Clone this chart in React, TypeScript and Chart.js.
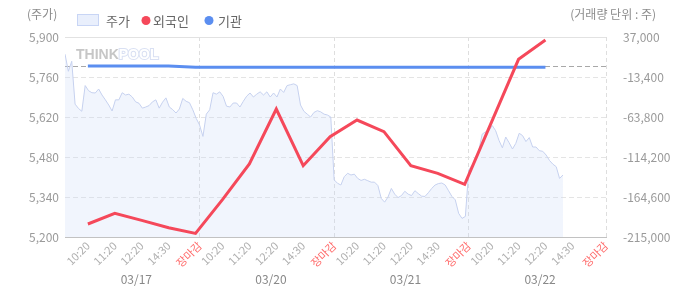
import React, { useEffect, useRef } from 'react';
import { Chart, registerables } from 'chart.js';

Chart.register(...registerables);

const FONT = "'Noto Sans CJK KR', 'Noto Sans', sans-serif";

// ---- data ----
const dates = ['03/17', '03/20', '03/21', '03/22'];
const slotLabels = ['10:20', '11:20', '12:20', '14:30', '장마감'];
const CLOSE = '장마감';
const dayLength = 5;
const xMax = 20.1;
const slotTimes = [0.85, 1.85, 2.85, 3.85, 5];
const flowTimes = [0.85, 1.85, 2.85, 3.85, 4.85];
const priceStep = 0.125;

const priceDay1 = [5840, 5780, 5815, 5665, 5650, 5640, 5730, 5712, 5705, 5704, 5718, 5697, 5680, 5662, 5641, 5680, 5680, 5705, 5697, 5700, 5690, 5673, 5668, 5651, 5655, 5660, 5673, 5680, 5651, 5672, 5687, 5655, 5646, 5634, 5648, 5685, 5675, 5670, 5645, 5615];
const priceDay2 = [5592, 5552, 5630, 5645, 5705, 5700, 5708, 5692, 5658, 5655, 5669, 5669, 5655, 5675, 5693, 5704, 5690, 5700, 5708, 5697, 5708, 5690, 5704, 5690, 5718, 5706, 5730, 5733, 5736, 5730, 5662, 5640, 5630, 5620, 5636, 5642, 5638, 5630, 5627, 5620];
const priceDay3 = [5400, 5388, 5382, 5411, 5423, 5417, 5420, 5405, 5398, 5402, 5397, 5392, 5392, 5380, 5335, 5322, 5340, 5370, 5350, 5338, 5345, 5360, 5350, 5345, 5362, 5352, 5343, 5342, 5355, 5370, 5382, 5387, 5389, 5382, 5362, 5342, 5330, 5283, 5265, 5272];
const priceDay4 = [5434, 5452, 5468, 5504, 5560, 5568, 5572, 5590, 5572, 5538, 5512, 5550, 5530, 5508, 5528, 5563, 5555, 5534, 5548, 5515, 5515, 5502, 5500, 5487, 5468, 5455, 5446, 5405, 5417];
const priceDays = [priceDay1, priceDay2, priceDay3, priceDay4];

const foreignNet = [-198600, -185200, -194000, -203300, -210400, -168000, -123000, -53700, -125100, -88600, -67600, -82300, -125100, -134800, -148600, -70000, 8900, 33200];
const institutionNet = [500, 500, 500, 500, -1100, -1100, -1100, -1100, -1100, -1100, -1100, -1100, -1100, -1100, -1100, -1100, -1100, -1100];

const priceTicks = [5200, 5340, 5480, 5620, 5760, 5900];
const volumeTicks = [-215000, -164600, -114200, -63800, -13400, 37000];

const RED = '#f5485a';
const BLUE = '#5b8ef0';

export default function App() {
  const ref = useRef<HTMLCanvasElement>(null);

  useEffect(() => {
    const canvas = ref.current;
    if (!canvas) return;

    const tickValues: number[] = [];
    const tickLabels: string[] = [];
    dates.forEach((_, d) => {
      slotTimes.forEach((t, k) => {
        const last = d === dates.length - 1 && k === slotTimes.length - 1;
        tickValues.push(last ? xMax : d * dayLength + t);
        tickLabels.push(slotLabels[k]);
      });
    });

    const priceData = priceDays.flatMap((arr, d) =>
      arr.map((v, j) => ({ x: d * dayLength + j * priceStep, y: v }))
    );
    const flowX = (i: number) => Math.floor(i / flowTimes.length) * dayLength + flowTimes[i % flowTimes.length];
    const foreignData = foreignNet.map((v, i) => ({ x: flowX(i), y: v }));
    const instData = institutionNet.map((v, i) => ({ x: flowX(i), y: v }));

    const decor = {
      id: 'decor',
      beforeDatasetsDraw(chart: any) {
        const { ctx, chartArea } = chart;
        const { left, right, top } = chartArea;
        ctx.save();
        ctx.strokeStyle = '#e2e2e2';
        ctx.lineWidth = 1;
        ctx.beginPath();
        ctx.moveTo(left, top + 0.5);
        ctx.lineTo(right, top + 0.5);
        ctx.stroke();
        // zero line of volume axis
        const y0 = Math.round(chart.scales.yVol.getPixelForValue(0)) + 0.5;
        ctx.setLineDash([5, 3]);
        ctx.strokeStyle = '#a8a8a8';
        ctx.beginPath();
        ctx.moveTo(left, y0);
        ctx.lineTo(right, y0);
        ctx.stroke();
        ctx.setLineDash([]);
        // watermark
        ctx.font = "bold 14px 'Liberation Sans', sans-serif";
        ctx.textBaseline = 'alphabetic';
        ctx.textAlign = 'left';
        ctx.fillStyle = '#c6c6c6';
        ctx.fillText('THINK', left + 11, top + 22);
        const w = ctx.measureText('THINK').width;
        ctx.lineWidth = 2;
        ctx.strokeStyle = '#d9e0f3';
        ctx.strokeText('POOL', left + 11 + w, top + 22);
        ctx.fillStyle = '#ffffff';
        ctx.fillText('POOL', left + 11 + w, top + 22);
        ctx.restore();
      },
      afterDraw(chart: any) {
        const { ctx } = chart;
        ctx.save();
        ctx.textBaseline = 'middle';
        ctx.font = `12px ${FONT}`;
        ctx.fillStyle = '#8c8c8c';
        ctx.textAlign = 'left';
        ctx.fillText('(주가)', 27, 14);
        ctx.textAlign = 'right';
        ctx.fillText('(거래량 단위 : 주)', 656, 14);

        // legend
        ctx.textAlign = 'left';
        ctx.font = `13px ${FONT}`;
        ctx.fillStyle = '#e9effc';
        ctx.fillRect(77.5, 14.5, 21, 11);
        ctx.strokeStyle = '#c8d5f5';
        ctx.lineWidth = 1;
        ctx.strokeRect(77.5, 14.5, 21, 11);
        ctx.fillStyle = '#666666';
        ctx.fillText('주가', 106, 21);
        ctx.fillStyle = RED;
        ctx.beginPath();
        ctx.arc(146, 20.5, 4.5, 0, Math.PI * 2);
        ctx.fill();
        ctx.fillStyle = '#666666';
        ctx.fillText('외국인', 153, 21);
        ctx.fillStyle = BLUE;
        ctx.beginPath();
        ctx.arc(209, 20.5, 4.5, 0, Math.PI * 2);
        ctx.fill();
        ctx.fillStyle = '#666666';
        ctx.fillText('기관', 218, 21);

        // date labels
        const xs = chart.scales.x;
        ctx.font = `12px ${FONT}`;
        ctx.fillStyle = '#888888';
        ctx.textAlign = 'center';
        dates.forEach((dt, d) => {
          ctx.fillText(dt, xs.getPixelForValue(d * dayLength + 2.65), 279);
        });
        ctx.restore();
      },
    };

    const chart = new Chart(canvas, {
      type: 'line',
      data: {
        datasets: [
          { label: '외국인', data: foreignData, borderColor: RED, backgroundColor: RED, borderWidth: 3, pointRadius: 0, order: 0, yAxisID: 'yVol', fill: false, tension: 0 },
          { label: '기관', data: instData, borderColor: BLUE, backgroundColor: BLUE, borderWidth: 3, pointRadius: 0, order: 1, yAxisID: 'yVol', fill: false, tension: 0 },
          { label: '주가', data: priceData, borderColor: '#c6d1ef', backgroundColor: 'rgba(200,215,248,0.25)', borderWidth: 1, pointRadius: 0, fill: 'start', order: 2, yAxisID: 'yPrice', tension: 0 },
        ],
      },
      options: {
        animation: false,
        responsive: false,
        layout: { padding: { top: 37, left: 0, right: 0, bottom: 0 } },
        plugins: { legend: { display: false }, tooltip: { enabled: false } },
        scales: {
          x: {
            type: 'linear',
            min: 0,
            max: xMax,
            afterBuildTicks: (s: any) => {
              s.ticks = tickValues.map((v) => ({ value: v }));
            },
            afterFit: (s: any) => {
              s.height = 53;
            },
            ticks: {
              autoSkip: false,
              maxRotation: 45,
              minRotation: 45,
              padding: 2,
              font: { family: FONT, size: 11 },
              color: (c: any) => (tickLabels[c.index] === CLOSE ? '#ff6b6b' : '#b0b0b0'),
              callback: (_v: any, i: number) => tickLabels[i],
            },
            grid: {
              drawTicks: false,
              lineWidth: 1,
              color: (c: any) => (tickLabels[c.index] === CLOSE ? '#dedede' : 'rgba(0,0,0,0)'),
            },
            border: { display: true, color: '#c2c2c2', width: 1, dash: [4, 3] },
          },
          yPrice: {
            position: 'left',
            min: priceTicks[0],
            max: priceTicks[priceTicks.length - 1],
            afterBuildTicks: (s: any) => {
              s.ticks = priceTicks.map((v) => ({ value: v }));
            },
            afterFit: (s: any) => {
              s.width = 65;
            },
            ticks: {
              padding: 6,
              font: { family: FONT, size: 12 },
              color: '#9a9a9a',
              callback: (v: any) => Number(v).toLocaleString('en-US'),
            },
            grid: {
              drawTicks: false,
              color: (c: any) =>
                c.index === 0 || c.index === priceTicks.length - 1 ? 'rgba(0,0,0,0)' : '#e4e4e4',
            },
            border: { display: false, dash: [5, 3] },
          },
          yVol: {
            position: 'right',
            min: volumeTicks[0],
            max: volumeTicks[volumeTicks.length - 1],
            afterBuildTicks: (s: any) => {
              s.ticks = volumeTicks.map((v) => ({ value: v }));
            },
            afterFit: (s: any) => {
              s.width = 67;
            },
            ticks: {
              padding: 9,
              font: { family: FONT, size: 12 },
              color: '#9a9a9a',
              callback: (v: any) => Number(v).toLocaleString('en-US'),
            },
            grid: { display: false },
            border: { display: false },
          },
        },
      },
      plugins: [decor],
    } as any);

    return () => chart.destroy();
  }, []);

  return (
    <div style={{ position: 'fixed', left: 0, top: 0, width: 673, height: 290, background: '#fff' }}>
      <canvas ref={ref} width={673} height={290} style={{ display: 'block', width: 673, height: 290 }} />
    </div>
  );
}
